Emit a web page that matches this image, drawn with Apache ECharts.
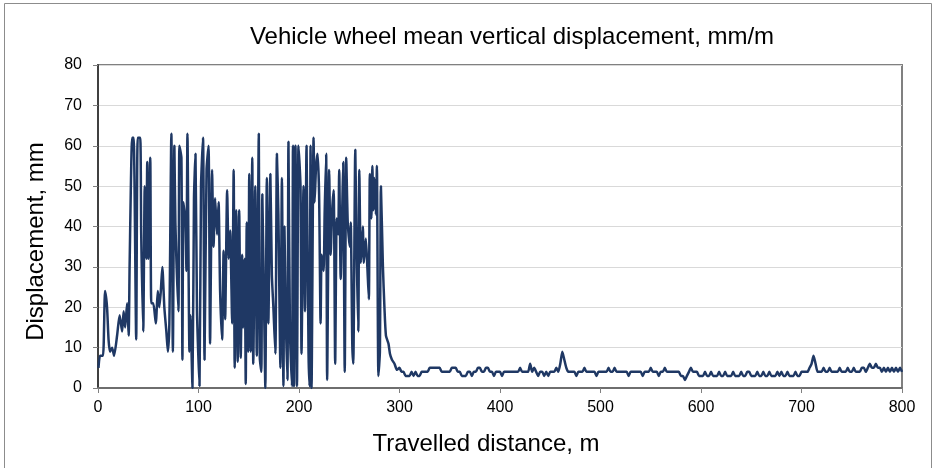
<!DOCTYPE html>
<html>
<head>
<meta charset="utf-8">
<title>Vehicle wheel mean vertical displacement</title>
<script src="https://cdn.jsdelivr.net/npm/echarts@6/dist/echarts.min.js"></script>
<style>
  html, body { margin: 0; padding: 0; background: #fff; }
  #chart { width: 937px; height: 468px; }
</style>
</head>
<body>
<div id="chart"></div>
<script>
// rough section, 0 - 300 m (distance, m)
const roughDist = [
  0.5, 2, 5, 7, 9, 10.5, 12, 14, 16, 19, 21.5, 24, 25.5, 27, 29, 30.5, 31.5, 34, 35.5, 38,
  39.5, 42, 43, 45, 46.5, 48, 49, 50, 52, 53, 55, 57.5, 59.5, 61, 62.5, 64, 66, 68, 69.5, 71,
  73, 74.5, 76, 77, 80, 81, 83, 84, 85, 87, 88, 89, 91, 92, 94, 95.5, 97, 98.5, 101, 102.5,
  104.5, 106, 108, 110, 111.5, 113.5, 115, 116.5, 118.5, 120, 121.5, 123.5, 125, 126.5, 128.5, 130, 131.5, 133.5, 135, 136,
  137.5, 139, 140.5, 142, 143.5, 144.5, 146, 147, 148, 149.5, 150.5, 152, 153.5, 154.5, 156.5, 158, 160, 161, 162.5, 163.5,
  165.5, 166.5, 168, 169.5, 171.5, 173, 174.5, 176.5, 178, 179.5, 181.5, 183, 184.5, 185.5, 187, 188.5, 189.5, 191, 193, 194,
  195, 196.5, 198, 199.5, 201.5, 202.5, 204.5, 206, 207.5, 209.5, 210.5, 211.5, 212.5, 214.5, 215.5, 217, 218.5, 220, 221.5, 222.5,
  224.5, 225.5, 227, 228, 230, 231.5, 233, 234.5, 236, 237.5, 239, 240, 241.5, 243, 244, 245.5, 247, 248.5, 250.5, 251.5,
  253, 254, 256, 257.5, 259, 260, 261.5, 263.5, 264.5, 266.5, 268, 269.5, 270.5, 272, 273, 274, 275, 276.5, 277.5, 279,
  280.5, 281.5, 283.5, 285, 286.5, 289, 290.5, 292.5, 295, 297.5
];
const roughDisp = [
  5, 8, 8, 24, 20, 12, 9, 10, 8, 13, 18, 14, 19, 15, 21, 13, 31, 62, 62, 12,
  62, 62, 38, 14, 50, 32, 56, 32, 57, 21, 21, 16, 24, 20, 24, 30, 20, 14, 9, 16,
  63, 9, 60, 41, 19, 60, 57, 7, 46, 41, 29, 63, 9, 18, 0, 47, 58, 19, 0.5, 50,
  62, 7, 54, 60, 11, 54, 35, 47, 38, 46, 24, 12, 34, 17, 49, 32, 39, 16, 54, 5,
  44, 6.5, 44, 7.5, 33, 15, 32, 1, 41, 9, 53, 9, 57, 6, 50, 8, 63, 7.5, 4, 48,
  16, 0, 52, 16, 53, 28, 20, 8.5, 58, 43, 5, 52, 0.5, 40, 16, 2, 61, 14, 0.5, 60,
  0.5, 60, 0.5, 60, 50, 8.5, 50, 19, 60, 8.5, 0.5, 60, 0, 62, 46, 55, 58, 48, 16, 33,
  29, 43, 58, 2, 54, 33, 44, 49, 6, 42, 38, 54, 27, 44, 56, 4, 57, 41, 35, 41,
  11, 6, 59, 32, 14, 54, 31, 40, 31, 37, 30, 22, 53, 42, 55, 44, 52, 43, 55, 3,
  9, 50, 30, 20, 13, 11, 8.5, 7, 6, 4.5
];

// smooth section, 300 - 800 m every 2 m
const smoothStart = 300;
const smoothStep = 2;
const smoothDisp = [
  5, 4, 4, 3, 3, 3, 4, 3, 4, 3,
  3, 4, 4, 4, 4, 5, 5, 5, 5, 5,
  5, 4, 4, 4, 4, 4, 5, 5, 5, 4,
  4, 3, 3, 3, 4, 4, 3, 4, 4, 5,
  5, 4, 4, 5, 5, 4, 4, 3, 4, 4,
  4, 3, 4, 4, 4, 4, 4, 4, 4, 4,
  5, 4, 4, 4, 4, 6, 4, 5, 4, 3,
  4, 4, 3, 4, 3, 4, 4, 4, 5, 4,
  6, 9, 7, 5, 4, 4, 4, 4, 3, 4,
  4, 4, 5, 4, 4, 4, 4, 4, 3, 4,
  4, 4, 4, 4, 5, 4, 4, 5, 4, 4,
  4, 4, 4, 4, 3, 4, 4, 4, 4, 4,
  4, 3, 4, 4, 4, 5, 4, 4, 4, 3,
  4, 4, 5, 4, 4, 4, 4, 4, 4, 4,
  3, 3, 2, 3, 4, 5, 4, 4, 4, 3,
  3, 3, 4, 3, 3, 4, 3, 3, 3, 4,
  3, 3, 4, 3, 3, 3, 4, 3, 3, 3,
  4, 3, 3, 4, 4, 3, 3, 3, 4, 3,
  3, 4, 3, 3, 4, 3, 3, 3, 4, 3,
  4, 3, 3, 4, 3, 3, 3, 4, 3, 3,
  4, 4, 4, 4, 5, 6, 8, 6, 4, 4,
  4, 5, 4, 4, 5, 4, 4, 4, 4, 5,
  4, 4, 4, 5, 4, 4, 5, 4, 4, 4,
  5, 5, 4, 5, 6, 5, 5, 6, 5, 5,
  4, 5, 4, 5, 4, 5, 4, 5, 4, 5,
  4
];

const xTicks = { min: 0, max: 800, interval: 100 };
const yTicks = { min: 0, max: 80, interval: 10 };

const points = [];
roughDist.forEach(function (d, i) {
  points.push([d, roughDisp[i]]);
});
smoothDisp.forEach(function (v, i) {
  points.push([smoothStart + i * smoothStep, v]);
});

const font = '"Liberation Sans", Arial, sans-serif';
const chart = echarts.init(document.getElementById('chart'), null, { renderer: 'canvas' });

chart.setOption({
  animation: false,
  backgroundColor: '#fff',
  title: {
    text: 'Vehicle wheel mean vertical displacement, mm/m',
    left: 507,
    top: 20,
    textAlign: 'center',
    textStyle: {
      fontFamily: font,
      fontSize: 24,
      fontWeight: 'normal',
      color: '#000'
    }
  },
  graphic: [
    {
      type: 'rect',
      shape: { x: 4.5, y: 3.5, width: 927, height: 490 },
      style: { fill: null, stroke: '#8c8c8c', lineWidth: 1 },
      silent: true
    }
  ],
  grid: {
    left: 98,
    right: 35,
    top: 65,
    bottom: 80,
    show: true,
    borderColor: '#808080',
    borderWidth: 2
  },
  xAxis: {
    type: 'value',
    min: xTicks.min,
    max: xTicks.max,
    interval: xTicks.interval,
    name: 'Travelled distance, m',
    nameLocation: 'middle',
    nameGap: 44,
    nameTextStyle: {
      fontFamily: font,
      fontSize: 24,
      color: '#000',
      padding: [0, 28, 0, 0]
    },
    axisLine: { show: true, lineStyle: { color: '#6e6e6e', width: 2 } },
    axisTick: { show: true, length: 5, lineStyle: { color: '#808080' } },
    axisLabel: { fontFamily: font, fontSize: 16, color: '#000', margin: 12 },
    splitLine: { show: false }
  },
  yAxis: {
    type: 'value',
    min: yTicks.min,
    max: yTicks.max,
    interval: yTicks.interval,
    name: 'Displacement, mm',
    nameLocation: 'middle',
    nameGap: 50,
    nameTextStyle: {
      fontFamily: font,
      fontSize: 24,
      color: '#000',
      padding: [0, 30, 0, 0]
    },
    axisLine: { show: true, lineStyle: { color: '#404040', width: 2 } },
    axisTick: { show: true, length: 5, lineStyle: { color: '#808080' } },
    axisLabel: { fontFamily: font, fontSize: 16, color: '#000', margin: 16 },
    splitLine: { show: true, lineStyle: { color: '#d9d9d9', width: 1 } }
  },
  series: [
    {
      name: 'Displacement',
      type: 'line',
      data: points,
      smooth: 0.2,
      showSymbol: false,
      lineStyle: { color: '#1f3864', width: 2.5 },
      itemStyle: { color: '#1f3864' }
    }
  ]
});
</script>
</body>
</html>
